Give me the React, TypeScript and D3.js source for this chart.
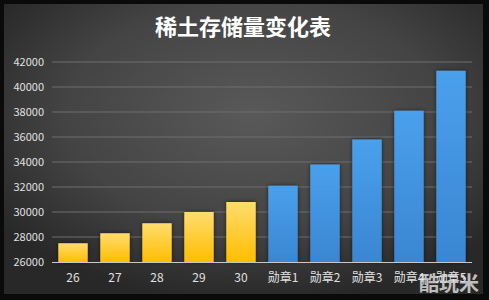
import React from "react";
import * as d3 from "d3";

const categories = ["26", "27", "28", "29", "30", "勋章1", "勋章2", "勋章3", "勋章4", "勋章5"];
const values = [27500, 28300, 29100, 30000, 30800, 32100, 33800, 35800, 38100, 41300];
const yTicks = [26000, 28000, 30000, 32000, 34000, 36000, 38000, 40000, 42000];
const title = "稀土存储量变化表";

const W = 489;
const H = 300;

export default function App() {
  const x = d3.scaleBand<string>().domain(categories).range([52, 472]).paddingInner(0.3).paddingOuter(0.15);
  const y = d3.scaleLinear().domain([26000, 42000]).range([262, 62]);
  const font = "'Noto Sans CJK SC', 'Liberation Sans', sans-serif";

  return (
    <svg width={W} height={H} style={{ position: "absolute", left: 0, top: 0 }}>
      <defs>
        <radialGradient id="bg" cx="52%" cy="38%" r="65%">
          <stop offset="0%" stopColor="#595959" />
          <stop offset="60%" stopColor="#444444" />
          <stop offset="100%" stopColor="#282828" />
        </radialGradient>
        <linearGradient id="gy" x1="0" y1="0" x2="0" y2="1">
          <stop offset="0%" stopColor="#ffdc6e" />
          <stop offset="100%" stopColor="#ffbd00" />
        </linearGradient>
        <linearGradient id="gb" x1="0" y1="0" x2="0" y2="1">
          <stop offset="0%" stopColor="#4aa0ec" />
          <stop offset="100%" stopColor="#3a86d2" />
        </linearGradient>
        <filter id="sh" x="-30%" y="-30%" width="160%" height="160%">
          <feDropShadow dx="0" dy="0" stdDeviation="2" floodColor="#000" floodOpacity="0.55" />
        </filter>
      </defs>
      <rect x={0} y={0} width={W} height={H} fill="#0a0a0a" />
      <rect x={4} y={4} width={479} height={290} fill="url(#bg)" />
      <text x={243} y={35} textAnchor="middle" fill="#ffffff" fontSize={22} fontWeight="bold" fontFamily={font}>
        {title}
      </text>
      {yTicks.map((t) => (
        <g key={t}>
          {t !== 26000 && (
            <line x1={52} x2={472} y1={y(t)} y2={y(t)} stroke="#6e6e6e" strokeWidth={1} />
          )}
          <text x={44} y={y(t)} dy="0.35em" textAnchor="end" fill="#e0e0e0" fontSize={11} fontFamily={font}>
            {t}
          </text>
        </g>
      ))}
      {categories.map((c, i) => (
        <rect
          key={c}
          x={x(c)}
          y={y(values[i])}
          width={x.bandwidth()}
          height={y(26000) - y(values[i])}
          fill={i < 5 ? "url(#gy)" : "url(#gb)"}
          filter="url(#sh)"
        />
      ))}
      <line x1={52} x2={472} y1={262.5} y2={262.5} stroke="#c8c8c8" strokeWidth={1} />
      {categories.map((c) => (
        <text
          key={c}
          x={(x(c) as number) + x.bandwidth() / 2}
          y={282}
          textAnchor="middle"
          fill="#e0e0e0"
          fontSize={12}
          fontFamily={font}
        >
          {c}
        </text>
      ))}
      <text x={479} y={291} textAnchor="end" fill="#e8e8e8" fillOpacity={0.8} fontSize={20} fontWeight="bold" fontFamily={font}>
        酷玩米
      </text>
    </svg>
  );
}
